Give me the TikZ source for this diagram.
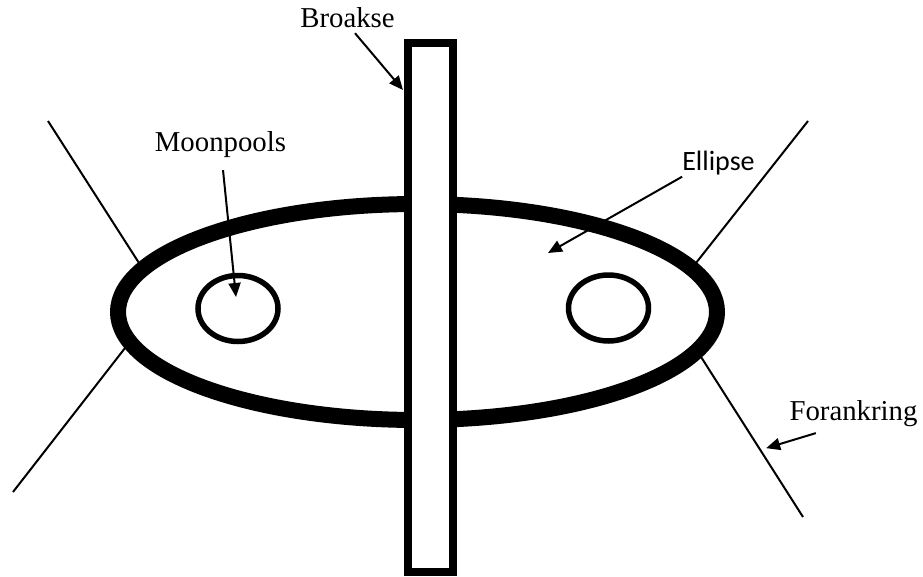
\documentclass[tikz,border=0pt]{standalone}
\usepackage{fontspec}
\setmainfont{Liberation Serif}
\newfontfamily\sanslabel{Carlito}
\usetikzlibrary{arrows.meta,shapes.geometric,calc,backgrounds}
\definecolor{ink}{HTML}{000000}
\tikzset{
  hull/.style   ={ellipse,draw=ink,line width=16pt,inner sep=0pt,
                  minimum width=599pt,minimum height=216pt},
  pool/.style   ={ellipse,draw=ink,line width=5.5pt,inner sep=0pt,
                  minimum width=80pt,minimum height=66pt},
  column/.style ={rectangle,draw=ink,fill=white,line width=8pt,inner sep=0pt,
                  minimum width=45pt,minimum height=529.5pt},
  lbl/.style    ={inner sep=0pt,anchor=base,font=\fontsize{28.8}{32}\selectfont},
  mooring/.style={line width=2pt,draw=ink},
  pointer/.style={-{Triangle[length=14pt,width=12pt]},line width=2pt,draw=ink}
}

\begin{document}
\begin{tikzpicture}[x=1pt,y=-1pt]
    \useasboundingbox (0,0) rectangle (923,576);
    % --- hull, column and moonpools ---
    \node[hull] (hull) at (417.5,312) {};
    \node[column] (column) at (430.5,307.25) {};
    \node[pool] (poolL) at (238,308.5) {};
    \node[pool] (poolR) at (608.5,308) {};
    % --- mooring lines (behind the hull) ---
    \coordinate (mNW) at (48,121);
    \coordinate (mSW) at (13,492);
    \coordinate (mNE) at (808,121);
    \coordinate (mSE) at (803,517);
    \begin{scope}[on background layer]
      \draw[mooring] (mNW) -- (hull.170.6);
      \draw[mooring] (mSW) -- (hull.187.8);
      \draw[mooring] (mNE) -- (hull.10.9);
      \draw[mooring] (mSE) -- (hull.351.6);
    \end{scope}
    % --- labels ---
    \node[lbl] (broakse) at (347.5,27.7) {Broakse};
    \node[lbl] (moonpools) at (220.5,151) {Moonpools};
    \node[lbl,font=\sanslabel\fontsize{28}{32}\selectfont] (ellipse) at (718.5,170) {Ellipse};
    \node[lbl] (forankring) at (853.5,420) {Forankring};
    % --- pointers ---
    \coordinate (anchortip) at ($(hull.351.6)!0.57!(mSE)+(7,0)$);
    \draw[pointer] ($(broakse.south)+(7.5,5)$) -- ($(column.north west)+(-1,51.5)$);
    \draw[pointer] ($(moonpools.south)+(2.5,12.75)$) -- ($(poolL)+(-2,-11.5)$);
    \draw[pointer] ($(ellipse.south west)+(0,2)$) -- ($(hull)+(130.5,-59)$);
    \draw[pointer] ($(forankring.south west)+(26.5,6.7)$) -- (anchortip);
  \end{tikzpicture}
\end{document}
